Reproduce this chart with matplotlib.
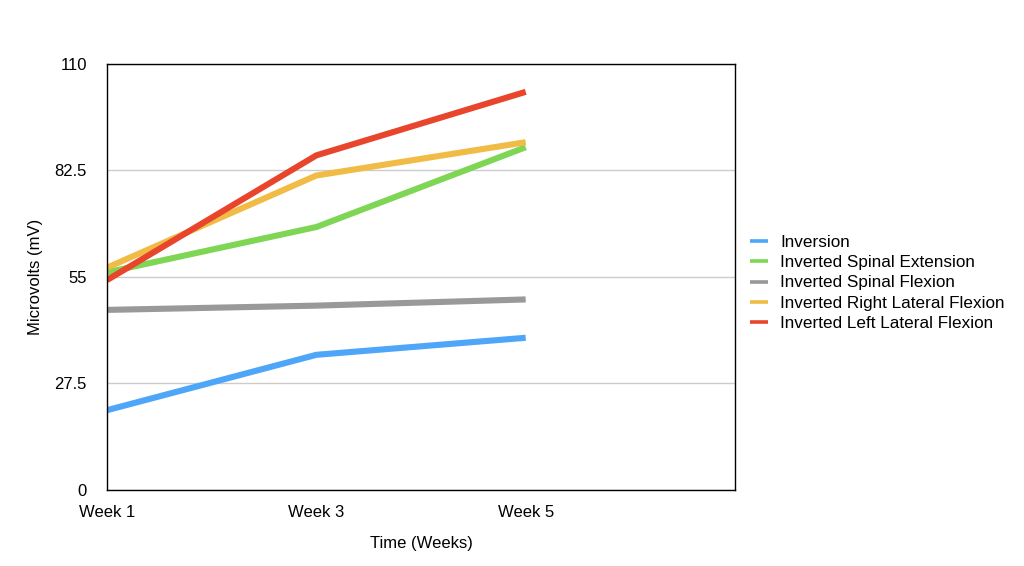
import matplotlib
matplotlib.use("Agg")
import matplotlib.pyplot as plt

plt.rcParams['font.family'] = ['Liberation Sans', 'DejaVu Sans']

categories = ["Week 1", "Week 3", "Week 5"]
series_names = ["Inversion", "Inverted Spinal Extension", "Inverted Spinal Flexion",
                "Inverted Right Lateral Flexion", "Inverted Left Lateral Flexion"]
inversion = [20.6, 34.9, 39.3]
spinal_extension = [56.2, 67.9, 88.5]
spinal_flexion = [46.5, 47.6, 49.2]
right_lateral = [57.4, 81.2, 89.8]
left_lateral = [54.2, 86.4, 102.8]
yticks = [0, 27.5, 55, 82.5, 110]
ytick_labels = ["0", "27.5", "55", "82.5", "110"]

colors = ["#4ea6f8", "#7fd655", "#999999", "#f0bc45", "#e8452c"]
values = [inversion, spinal_extension, spinal_flexion, right_lateral, left_lateral]

fig = plt.figure(figsize=(10.24, 5.66), dpi=100)
ax = fig.add_axes([0.1045, 0.1343, 0.6133, 0.7527])

x = list(range(len(categories)))
for name, vals, c in zip(series_names, values, colors):
    ax.plot(x, vals, color=c, linewidth=4.4, label=name, solid_capstyle='butt')

ax.set_xlim(0, 3)
ax.set_ylim(0, 110)
ax.set_xticks(x)
ax.set_xticklabels(categories)
ax.set_yticks(yticks)
ax.set_yticklabels(ytick_labels)
ax.tick_params(axis='both', length=0, labelsize=12)
ax.tick_params(axis='y', pad=14.5)
ax.tick_params(axis='x', pad=10.5)
ax.yaxis.grid(True, color="#cccccc", linewidth=1)
ax.set_axisbelow(True)
for s in ax.spines.values():
    s.set_color("black")
    s.set_linewidth(1.0)

ax.set_xlabel("Time (Weeks)", fontsize=12, labelpad=12)
ax.set_ylabel("Microvolts (mV)", fontsize=12, labelpad=8)

leg = fig.legend(loc='center left', bbox_to_anchor=(0.717, 0.50), frameon=False,
                 fontsize=12.3, handlelength=1.05, handletextpad=0.75, labelspacing=0.3)
for h in leg.legend_handles:
    h.set_linewidth(2.6)

fig.savefig("out.png", dpi=100)
